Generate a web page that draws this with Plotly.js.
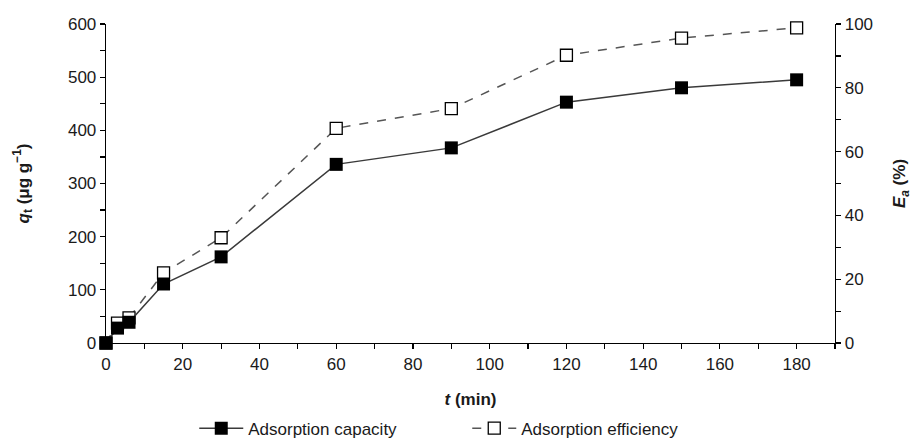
<!DOCTYPE html>
<html>
<head>
<meta charset="utf-8">
<script src="https://cdn.plot.ly/plotly-3.0.1.min.js"></script>
<style>html,body{margin:0;padding:0;background:#fff;}#chart{width:912px;height:441px;}</style>
</head>
<body>
<div id="chart"></div>
<script>
// Data
const timeMin = [0, 3, 6, 15, 30, 60, 90, 120, 150, 180];
const adsorptionCapacity = [0, 28, 39, 111, 162, 336, 367, 453, 480, 495];
const adsorptionEfficiency = [0, 6.2, 7.9, 22, 33, 67.3, 73.5, 90.2, 95.6, 98.8];
const seriesNames = ["Adsorption capacity", "Adsorption efficiency"];

const font = "Liberation Sans, Arial, sans-serif";
const ink = "#1a1a1a";

const traces = [
  {
    x: timeMin, y: adsorptionCapacity, name: seriesNames[0],
    type: "scatter", mode: "lines+markers", yaxis: "y2",
    line: {color: "#3a3a3a", width: 1.5},
    marker: {symbol: "square", size: 13, color: "#000"},
    cliponaxis: false
  },
  {
    x: timeMin, y: adsorptionEfficiency, name: seriesNames[1],
    type: "scatter", mode: "lines+markers", yaxis: "y",
    line: {color: "#555", width: 1.5, dash: "dash"},
    marker: {symbol: "square", size: 12, color: "#fff", line: {color: "#000", width: 1.3}},
    cliponaxis: false
  }
];

const axisCommon = {
  showgrid: false, zeroline: false, showline: true, linecolor: "#000", linewidth: 1.3,
  ticks: "outside", ticklen: 5, tickwidth: 1.2, tickcolor: "#000", automargin: false,
  tickfont: {family: font, size: 17, color: ink}
};

const layout = {
  width: 912, height: 441,
  margin: {l: 106, r: 77, t: 24, b: 98},
  paper_bgcolor: "#fff", plot_bgcolor: "#fff",
  showlegend: true,
  legend: {
    orientation: "h", xref: "container", yref: "container",
    x: 0.213, xanchor: "left", y: 0.028, yanchor: "middle",
    font: {family: font, size: 17, color: ink}, entrywidth: 214, itemwidth: 44,
    traceorder: "normal"
  },
  xaxis: Object.assign({}, axisCommon, {
    range: [0, 190], tick0: 0, dtick: 20,
    minor: {dtick: 10, ticks: "outside", ticklen: 5, tickcolor: "#000", tickwidth: 1.2},
    title: {text: "<b><i>t</i> (min)</b>", font: {family: font, size: 17, color: ink}, standoff: 20}
  }),
  yaxis: Object.assign({}, axisCommon, {
    side: "right", range: [0, 100], tick0: 0, dtick: 20,
    minor: {dtick: 10, ticks: "outside", ticklen: 5, tickcolor: "#000", tickwidth: 1.2},
    title: {text: "<b><i>E</i><sub><i>a</i></sub> (%)</b>", font: {family: font, size: 17, color: ink}, standoff: 22}
  }),
  yaxis2: Object.assign({}, axisCommon, {
    side: "left", overlaying: "y", range: [0, 600], tick0: 0, dtick: 100,
    minor: {dtick: 50, ticks: "outside", ticklen: 5, tickcolor: "#000", tickwidth: 1.2},
    title: {text: "<b><i>q</i><sub>t</sub> (μg g<sup>−1</sup>)</b>", font: {family: font, size: 17, color: ink}, standoff: 34}
  })
};

Plotly.newPlot("chart", traces, layout, {displayModeBar: false, staticPlot: true});
</script>
</body>
</html>
